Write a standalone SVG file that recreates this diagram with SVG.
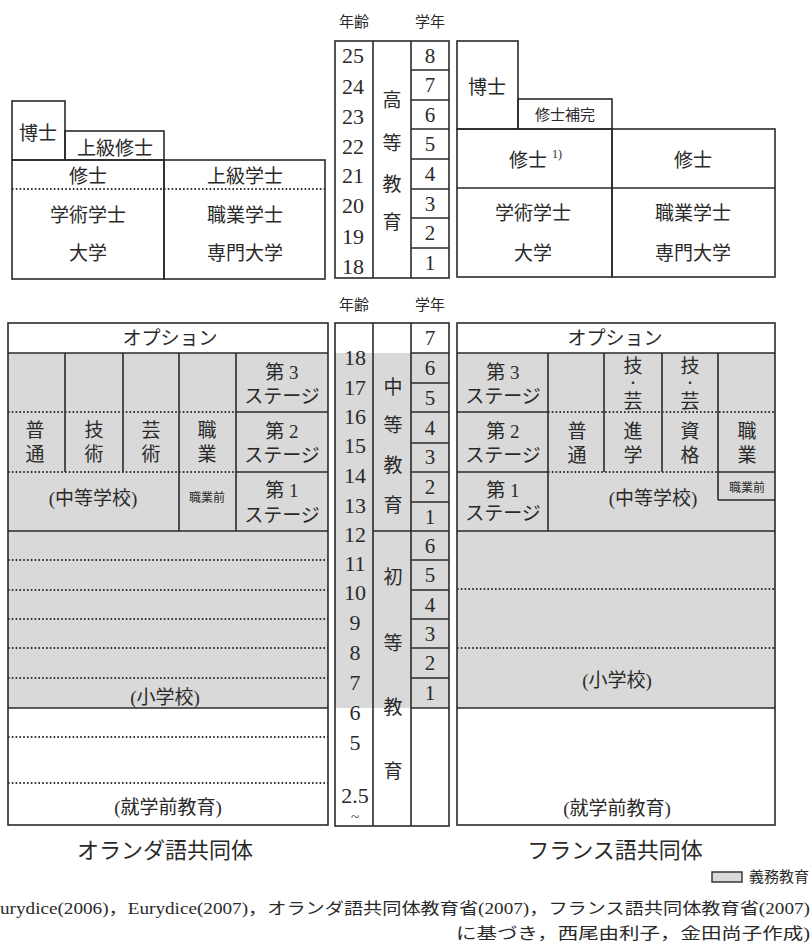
<svg xmlns="http://www.w3.org/2000/svg" width="812" height="949" viewBox="0 0 812 949">
<style>
.bx{fill:none;stroke:#2a2a2a;stroke-width:1.6}
.ln{stroke:#2a2a2a;stroke-width:1.6;fill:none}
.dt{stroke:#333;stroke-width:1.8;stroke-dasharray:1.6 2.2;fill:none}
.gr{fill:#d9d9d9;stroke:none}
text{font-family:"Liberation Serif","Noto Sans CJK JP",serif;fill:#2a2a2a;text-anchor:middle;dominant-baseline:central}
.j{font-size:19px}
.n{font-size:22px}
.g{font-size:21px}
.h{font-size:15px}
.s{font-size:12px}
.t{font-size:22px}
.f{font-size:16px}
</style>
<rect width="812" height="949" fill="#fff"/>

<!-- grey compulsory fill -->
<g id="shading">
<rect class="gr" x="8" y="353" width="320" height="355"/>
<rect class="gr" x="335" y="353" width="114" height="355"/>
<rect class="gr" x="457" y="353" width="318" height="355"/>
</g>

<!-- Dutch higher education -->
<g id="nl-higher">
<rect class="bx" x="12" y="101" width="53" height="59"/>
<rect class="bx" x="65" y="131" width="99" height="29"/>
<rect class="bx" x="12" y="160" width="152" height="119"/>
<rect class="bx" x="164" y="160" width="161" height="119"/>
<line class="dt" x1="12" y1="189" x2="325" y2="189"/>
<text class="j" x="38" y="133">博士</text>
<text class="j" x="115" y="148">上級修士</text>
<text class="j" x="88" y="176">修士</text>
<text class="j" x="245" y="176">上級学士</text>
<text class="j" x="88" y="215">学術学士</text>
<text class="j" x="88" y="253">大学</text>
<text class="j" x="245" y="215">職業学士</text>
<text class="j" x="245" y="253">専門大学</text>
</g>

<!-- middle scale top -->
<g id="scale-higher">
<text class="h" x="354" y="22">年齢</text>
<text class="h" x="430" y="22">学年</text>
<rect class="bx" x="335" y="41" width="114" height="237"/>
<line class="ln" x1="373" y1="41" x2="373" y2="278"/>
<line class="ln" x1="411" y1="41" x2="411" y2="278"/>
<line class="ln" x1="411" y1="70" x2="449" y2="70"/>
<line class="ln" x1="411" y1="100" x2="449" y2="100"/>
<line class="ln" x1="411" y1="129" x2="449" y2="129"/>
<line class="ln" x1="411" y1="159" x2="449" y2="159"/>
<line class="ln" x1="411" y1="189" x2="449" y2="189"/>
<line class="ln" x1="411" y1="218" x2="449" y2="218"/>
<line class="ln" x1="411" y1="248" x2="449" y2="248"/>
<text class="n" x="353" y="55">25</text>
<text class="n" x="353" y="86">24</text>
<text class="n" x="353" y="116">23</text>
<text class="n" x="353" y="146">22</text>
<text class="n" x="353" y="175">21</text>
<text class="n" x="353" y="205">20</text>
<text class="n" x="353" y="236">19</text>
<text class="n" x="353" y="266">18</text>
<text class="j" x="392" y="100">高</text>
<text class="j" x="392" y="143">等</text>
<text class="j" x="392" y="184">教</text>
<text class="j" x="392" y="222">育</text>
<text class="g" x="430" y="56">8</text>
<text class="g" x="430" y="85">7</text>
<text class="g" x="430" y="115">6</text>
<text class="g" x="430" y="144">5</text>
<text class="g" x="430" y="174">4</text>
<text class="g" x="430" y="204">3</text>
<text class="g" x="430" y="233">2</text>
<text class="g" x="430" y="263">1</text>
</g>

<!-- French higher education -->
<g id="fr-higher">
<rect class="bx" x="457" y="41" width="61" height="88"/>
<rect class="bx" x="518" y="99" width="94" height="30"/>
<rect class="bx" x="457" y="129" width="155" height="148"/>
<rect class="bx" x="612" y="129" width="163" height="148"/>
<line class="ln" x1="457" y1="188" x2="775" y2="188"/>
<text class="j" x="487" y="87">博士</text>
<text class="h" x="565" y="115">修士補完</text>
<text class="j" x="528" y="160">修士</text>
<text class="s" x="557" y="154">1)</text>
<text class="j" x="693" y="160">修士</text>
<text class="j" x="533" y="213">学術学士</text>
<text class="j" x="533" y="253">大学</text>
<text class="j" x="693" y="213">職業学士</text>
<text class="j" x="693" y="253">専門大学</text>
</g>

<!-- Dutch secondary/primary -->
<g id="nl-school">
<rect class="bx" x="8" y="323" width="320" height="502"/>
<line class="ln" x1="8" y1="353" x2="328" y2="353"/>
<line class="ln" x1="65" y1="353" x2="65" y2="472"/>
<line class="ln" x1="123" y1="353" x2="123" y2="472"/>
<line class="ln" x1="179" y1="353" x2="179" y2="531"/>
<line class="ln" x1="236" y1="353" x2="236" y2="531"/>
<line class="ln" x1="236" y1="412" x2="328" y2="412"/>
<line class="ln" x1="236" y1="472" x2="328" y2="472"/>
<line class="dt" x1="8" y1="412" x2="236" y2="412"/>
<line class="dt" x1="8" y1="472" x2="236" y2="472"/>
<line class="ln" x1="8" y1="531" x2="328" y2="531"/>
<line class="dt" x1="8" y1="560" x2="328" y2="560"/>
<line class="dt" x1="8" y1="590" x2="328" y2="590"/>
<line class="dt" x1="8" y1="619" x2="328" y2="619"/>
<line class="dt" x1="8" y1="648" x2="328" y2="648"/>
<line class="dt" x1="8" y1="678" x2="328" y2="678"/>
<line class="ln" x1="8" y1="708" x2="328" y2="708"/>
<line class="dt" x1="8" y1="737" x2="328" y2="737"/>
<line class="dt" x1="8" y1="783" x2="328" y2="783"/>
<text class="j" x="170" y="338">オプション</text>
<text class="j" x="35" y="430">普</text><text class="j" x="35" y="454">通</text>
<text class="j" x="94" y="430">技</text><text class="j" x="94" y="454">術</text>
<text class="j" x="151" y="430">芸</text><text class="j" x="151" y="454">術</text>
<text class="j" x="207" y="430">職</text><text class="j" x="207" y="454">業</text>
<text class="j" x="282" y="372">第 3</text><text class="j" x="282" y="396">ステージ</text>
<text class="j" x="282" y="431">第 2</text><text class="j" x="282" y="455">ステージ</text>
<text class="j" x="282" y="490">第 1</text><text class="j" x="282" y="515">ステージ</text>
<text class="j" x="93" y="498">(中等学校)</text>
<text class="s" x="207" y="498">職業前</text>
<text class="j" x="165" y="697">(小学校)</text>
<text class="j" x="168" y="807">(就学前教育)</text>
<text class="t" x="165" y="850">オランダ語共同体</text>
</g>

<!-- middle scale bottom -->
<g id="scale-school">
<text class="h" x="354" y="305">年齢</text>
<text class="h" x="430" y="305">学年</text>
<rect class="bx" x="335" y="323" width="114" height="503"/>
<line class="ln" x1="373" y1="323" x2="373" y2="826"/>
<line class="ln" x1="411" y1="323" x2="411" y2="826"/>
<line class="ln" x1="373" y1="531" x2="411" y2="531"/>
<line class="ln" x1="411" y1="353" x2="449" y2="353"/>
<line class="ln" x1="411" y1="383" x2="449" y2="383"/>
<line class="ln" x1="411" y1="412" x2="449" y2="412"/>
<line class="ln" x1="411" y1="443" x2="449" y2="443"/>
<line class="ln" x1="411" y1="472" x2="449" y2="472"/>
<line class="ln" x1="411" y1="502" x2="449" y2="502"/>
<line class="ln" x1="411" y1="531" x2="449" y2="531"/>
<line class="ln" x1="411" y1="560" x2="449" y2="560"/>
<line class="ln" x1="411" y1="590" x2="449" y2="590"/>
<line class="ln" x1="411" y1="619" x2="449" y2="619"/>
<line class="ln" x1="411" y1="648" x2="449" y2="648"/>
<line class="ln" x1="411" y1="678" x2="449" y2="678"/>
<line class="ln" x1="411" y1="708" x2="449" y2="708"/>
<text class="n" x="355" y="357">18</text>
<text class="n" x="355" y="387">17</text>
<text class="n" x="355" y="416">16</text>
<text class="n" x="355" y="445">15</text>
<text class="n" x="355" y="475">14</text>
<text class="n" x="355" y="505">13</text>
<text class="n" x="355" y="534">12</text>
<text class="n" x="355" y="563">11</text>
<text class="n" x="355" y="592">10</text>
<text class="n" x="355" y="622">9</text>
<text class="n" x="355" y="652">8</text>
<text class="n" x="355" y="682">7</text>
<text class="n" x="355" y="712">6</text>
<text class="n" x="355" y="742">5</text>
<text class="n" x="355" y="795">2.5</text>
<text class="h" x="355" y="817">~</text>
<text class="j" x="393" y="387">中</text>
<text class="j" x="393" y="425">等</text>
<text class="j" x="393" y="465">教</text>
<text class="j" x="393" y="505">育</text>
<text class="j" x="393" y="577">初</text>
<text class="j" x="393" y="643">等</text>
<text class="j" x="393" y="707">教</text>
<text class="j" x="393" y="771">育</text>
<text class="g" x="430" y="338">7</text>
<text class="g" x="430" y="368">6</text>
<text class="g" x="430" y="398">5</text>
<text class="g" x="430" y="428">4</text>
<text class="g" x="430" y="457">3</text>
<text class="g" x="430" y="487">2</text>
<text class="g" x="430" y="517">1</text>
<text class="g" x="430" y="546">6</text>
<text class="g" x="430" y="575">5</text>
<text class="g" x="430" y="605">4</text>
<text class="g" x="430" y="634">3</text>
<text class="g" x="430" y="663">2</text>
<text class="g" x="430" y="693">1</text>
</g>

<!-- French secondary/primary -->
<g id="fr-school">
<rect class="bx" x="457" y="323" width="318" height="502"/>
<line class="ln" x1="457" y1="353" x2="775" y2="353"/>
<line class="ln" x1="457" y1="412" x2="548" y2="412"/>
<line class="ln" x1="457" y1="472" x2="548" y2="472"/>
<line class="ln" x1="548" y1="353" x2="548" y2="531"/>
<line class="ln" x1="604" y1="353" x2="604" y2="472"/>
<line class="ln" x1="662" y1="353" x2="662" y2="472"/>
<line class="ln" x1="718" y1="353" x2="718" y2="500"/>
<line class="dt" x1="548" y1="412" x2="775" y2="412"/>
<line class="dt" x1="548" y1="472" x2="718" y2="472"/>
<line class="ln" x1="718" y1="472" x2="775" y2="472"/>
<line class="ln" x1="718" y1="500" x2="775" y2="500"/>
<line class="ln" x1="457" y1="531" x2="775" y2="531"/>
<line class="dt" x1="457" y1="589" x2="775" y2="589"/>
<line class="dt" x1="457" y1="648" x2="775" y2="648"/>
<line class="ln" x1="457" y1="708" x2="775" y2="708"/>
<text class="j" x="615" y="338">オプション</text>
<text class="j" x="503" y="372">第 3</text><text class="j" x="503" y="396">ステージ</text>
<text class="j" x="503" y="431">第 2</text><text class="j" x="503" y="455">ステージ</text>
<text class="j" x="503" y="490">第 1</text><text class="j" x="503" y="513">ステージ</text>
<text class="j" x="577" y="431">普</text><text class="j" x="577" y="455">通</text>
<text class="j" x="633" y="366">技</text><text class="s" x="633" y="384">・</text><text class="j" x="633" y="401">芸</text><text class="j" x="633" y="431">進</text><text class="j" x="633" y="455">学</text>
<text class="j" x="690" y="366">技</text><text class="s" x="690" y="384">・</text><text class="j" x="690" y="401">芸</text><text class="j" x="690" y="431">資</text><text class="j" x="690" y="455">格</text>
<text class="j" x="747" y="431">職</text><text class="j" x="747" y="455">業</text>
<text class="s" x="747" y="488">職業前</text>
<text class="j" x="653" y="498">(中等学校)</text>
<text class="j" x="617" y="680">(小学校)</text>
<text class="j" x="617" y="808">(就学前教育)</text>
<text class="t" x="615" y="850">フランス語共同体</text>
</g>

<!-- legend and source -->
<g id="legend">
<rect x="712" y="872" width="30" height="10" fill="#d9d9d9" stroke="#2a2a2a" stroke-width="1.4"/>
<text class="h" x="779" y="877">義務教育</text>
</g>
<g id="source">
<text class="f" x="0" y="908" style="text-anchor:start" textLength="810" lengthAdjust="spacingAndGlyphs">urydice(2006)，Eurydice(2007)，オランダ語共同体教育省(2007)，フランス語共同体教育省(2007)</text>
<text class="f" x="456" y="933" style="text-anchor:start" textLength="354" lengthAdjust="spacingAndGlyphs">に基づき，西尾由利子，金田尚子作成)</text>
</g>
</svg>
